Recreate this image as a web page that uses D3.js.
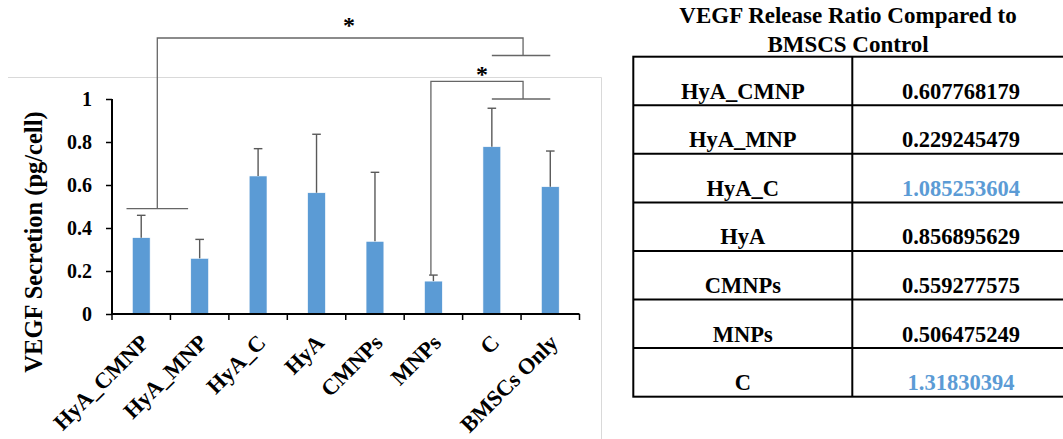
<!DOCTYPE html>
<html>
<head>
<meta charset="utf-8">
<script src="https://cdn.jsdelivr.net/npm/d3@7"></script>
<style>
  html, body { margin: 0; padding: 0; background: #fff; }
  svg { display: block; }
  text { font-family: "Liberation Serif", "Times New Roman", serif; font-weight: bold; fill: #000; }
</style>
</head>
<body>
<svg id="chart" width="1063" height="439"></svg>
<script>
// VEGF secretion per group (pg/cell) with upper error bars
const groups = ["HyA_CMNP", "HyA_MNP", "HyA_C", "HyA", "CMNPs", "MNPs", "C", "BMSCs Only"];
const means  = [0.355, 0.259, 0.642, 0.564, 0.338, 0.153, 0.778, 0.592];
const errTop = [0.459, 0.347, 0.769, 0.836, 0.659, 0.181, 0.957, 0.758];
const yTicks = [0, 0.2, 0.4, 0.6, 0.8, 1];

// Release ratio table (relative to BMSCs control)
const ratioNames  = ["HyA_CMNP", "HyA_MNP", "HyA_C", "HyA", "CMNPs", "MNPs", "C"];
const ratioValues = ["0.607768179", "0.229245479", "1.085253604", "0.856895629", "0.559277575", "0.506475249", "1.31830394"];
const ratioHighlight = [false, false, true, false, false, false, true];

const svg = d3.select("#chart");
const blue = "#5b9bd5";

// ---- bar chart ----
const axisLeft = 112, axisRight = 579.5;
const x = d3.scaleBand().domain(groups).range([axisLeft, axisRight]).paddingInner(0.695).paddingOuter(0.3475);
const xTickScale = d3.scaleLinear().domain([0, groups.length]).range([axisLeft, axisRight]);
const y = d3.scaleLinear().domain([0, 1]).range([314, 99]);
const cxOf = i => x(groups[i]) + x.bandwidth() / 2;

// chart frame (top and right edges visible)
svg.append("path")
  .attr("d", "M8,77.5H601.5V439")
  .attr("fill", "none").attr("stroke", "#d9d9d9").attr("stroke-width", 1);

// bars
svg.append("g").selectAll("rect").data(groups).join("rect")
  .attr("x", d => x(d))
  .attr("width", x.bandwidth())
  .attr("y", (d, i) => y(means[i]))
  .attr("height", (d, i) => y(0) - y(means[i]))
  .attr("fill", blue)
  .attr("stroke", "#ffffff").attr("stroke-width", 0.6);

// error bars (upper only)
const eb = svg.append("g").attr("stroke", "#595959").attr("stroke-width", 1.4).attr("fill", "none");
groups.forEach((g, i) => {
  const cx = cxOf(i);
  eb.append("line").attr("x1", cx).attr("x2", cx).attr("y1", y(means[i])).attr("y2", y(errTop[i]));
  eb.append("line").attr("x1", cx - 4.3).attr("x2", cx + 4.3).attr("y1", y(errTop[i])).attr("y2", y(errTop[i]));
});

// y axis
const yAxis = d3.axisLeft(y).tickValues(yTicks)
  .tickFormat(d => d === 0 ? "0" : d === 1 ? "1" : d3.format(".1f")(d))
  .tickSize(6).tickPadding(14);
const gy = svg.append("g").attr("transform", `translate(${axisLeft},0)`).call(yAxis);
gy.attr("font-family", null).attr("font-size", null);
gy.select(".domain").attr("stroke", "#000").attr("stroke-width", 2).attr("d", `M0,${y(1)}V${y(0)}`);
gy.selectAll(".tick line").attr("stroke", "#000").attr("stroke-width", 1.5);
gy.selectAll(".tick text").style("font-size", "20px").attr("fill", "#000");

// x axis
const gx = svg.append("g");
gx.append("line").attr("x1", axisLeft).attr("x2", axisRight).attr("y1", y(0)).attr("y2", y(0)).attr("stroke", "#000").attr("stroke-width", 2);
gx.selectAll("line.tk").data(d3.range(groups.length + 1)).join("line").attr("class", "tk")
  .attr("x1", d => xTickScale(d)).attr("x2", d => xTickScale(d))
  .attr("y1", y(0)).attr("y2", y(0) + 6).attr("stroke", "#000").attr("stroke-width", 1.5);
gx.selectAll("text").data(groups).join("text")
  .attr("transform", (d, i) => `translate(${cxOf(i) + 9},344) rotate(-45)`)
  .attr("text-anchor", "end")
  .style("font-size", "22.5px")
  .text(d => d);

// y axis title
svg.append("text")
  .attr("transform", "translate(42,242) rotate(-90)")
  .attr("text-anchor", "middle")
  .style("font-size", "24.5px")
  .text("VEGF Secretion (pg/cell)");

// significance brackets
const br = svg.append("g").attr("stroke", "#666").attr("stroke-width", 1.3).attr("fill", "none");
const ctrlLeft = cxOf(6), ctrlRight = cxOf(7), ctrlMid = (ctrlLeft + ctrlRight) / 2 + 2;
const ySig1 = 38, ySig1Foot = 55.5, ySig2 = 81.3, ySig2Foot = y(1);
// HyA_CMNP / HyA_MNP vs C / BMSCs Only
const pairLeft = 126.5, pairRight = 188.1, pairMid = 157.3, pairY = 208.7;
br.append("path").attr("d",
  `M${pairLeft},${pairY}H${pairRight}M${pairMid},${pairY}V${ySig1}H${ctrlMid}V${ySig1Foot}` +
  `M${ctrlLeft},${ySig1Foot}H${ctrlRight}`);
// MNPs vs C / BMSCs Only
br.append("path").attr("d",
  `M${cxOf(5) - 2.5},${y(errTop[5])}V${ySig2}H${ctrlMid}V${ySig2Foot}` +
  `M${ctrlLeft},${ySig2Foot}H${ctrlRight}`);
svg.append("text").attr("x", 349).attr("y", 33).attr("text-anchor", "middle").style("font-size", "24px").text("*");
svg.append("text").attr("x", 482).attr("y", 82).attr("text-anchor", "middle").style("font-size", "24px").text("*");

// ---- ratio table ----
const tLeft = 633.3, tMid = 852.3, tRight = 1070, tTop = 56.7, rowH = 48.57;
svg.append("text").attr("x", 848).attr("y", 23).attr("text-anchor", "middle").style("font-size", "23px").text("VEGF Release Ratio Compared to");
svg.append("text").attr("x", 848).attr("y", 52).attr("text-anchor", "middle").style("font-size", "23px").text("BMSCS Control");

const tb = svg.append("g").attr("stroke", "#000").attr("stroke-width", 2).attr("fill", "none");
tb.append("rect").attr("x", tLeft).attr("y", tTop).attr("width", tRight - tLeft).attr("height", rowH * ratioNames.length);
tb.append("line").attr("x1", tMid).attr("x2", tMid).attr("y1", tTop).attr("y2", tTop + rowH * ratioNames.length);
tb.selectAll("line.row").data(d3.range(1, ratioNames.length)).join("line").attr("class", "row")
  .attr("x1", tLeft).attr("x2", tRight).attr("y1", d => tTop + d * rowH).attr("y2", d => tTop + d * rowH);

svg.append("g").selectAll("text").data(ratioNames).join("text")
  .attr("x", (tLeft + tMid) / 2).attr("y", (d, i) => tTop + (i + 1) * rowH - 6.5)
  .attr("text-anchor", "middle").style("font-size", "22.5px").text(d => d);
svg.append("g").selectAll("text").data(ratioValues).join("text")
  .attr("x", 961).attr("y", (d, i) => tTop + (i + 1) * rowH - 6.5)
  .attr("text-anchor", "middle").style("font-size", "22.5px")
  .style("fill", (d, i) => ratioHighlight[i] ? blue : "#000")
  .text(d => d);
</script>
</body>
</html>
